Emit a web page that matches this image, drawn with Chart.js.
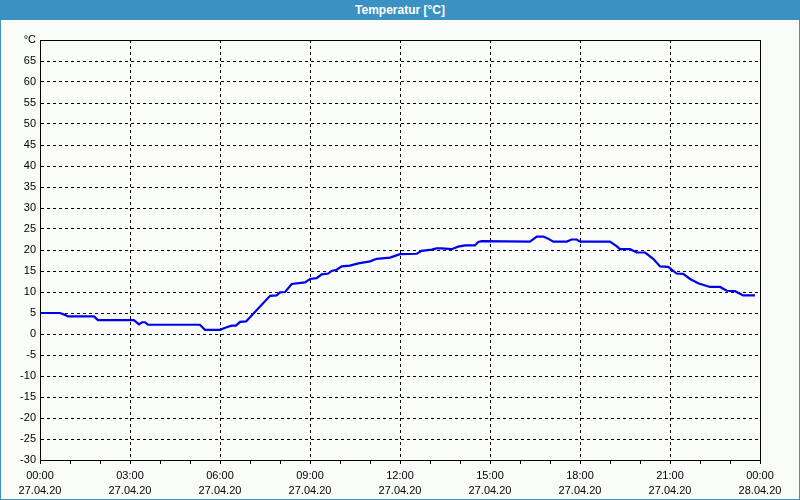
<!DOCTYPE html>
<html>
<head>
<meta charset="utf-8">
<script src="https://cdn.jsdelivr.net/npm/chart.js@4"></script>
<style>
    html, body { margin: 0; padding: 0; background: #fafcfa; }
    #titlebar {
        position: absolute; left: 0; top: 0; width: 800px; height: 20px;
        background: #3c91c3; color: #fff; text-align: center;
        font: bold 12px "Liberation Sans", sans-serif; line-height: 20px;
    }
    #wrap { position: absolute; left: 0; top: 20px; width: 800px; height: 480px; }
    #frame {
        position: absolute; left: 0; top: 0; width: 800px; height: 500px;
        box-sizing: border-box; border: 1px solid #3c91c3; pointer-events: none;
    }
</style>
</head>
<body>
<div id="titlebar">Temperatur [°C]</div>
<div id="wrap"><canvas id="tempChart" width="800" height="480"></canvas></div>
<div id="frame"></div>
<script>
// time in hours since 27.04.20 00:00, temperature in °C
const hours = [0, 0.67, 0.85, 0.93, 1.8, 1.93, 3.13, 3.3, 3.4, 3.5,
    3.6, 5.33, 5.5, 6.0, 6.22, 6.39, 6.53, 6.67, 6.87, 7.67,
    7.89, 8.0, 8.17, 8.39, 8.83, 9.0, 9.22, 9.39, 9.61, 9.72,
    9.89, 10.06, 10.33, 10.61, 11.0, 11.22, 11.67, 12.0, 12.56, 12.72,
    13.06, 13.22, 13.39, 13.72, 13.94, 14.17, 14.5, 14.61, 14.72, 16.33,
    16.56, 16.78, 16.94, 17.11, 17.56, 17.72, 17.89, 18.0, 19.0, 19.22,
    19.33, 19.67, 19.89, 20.17, 20.44, 20.67, 20.94, 21.22, 21.44, 21.67,
    21.94, 22.33, 22.67, 22.89, 23.17, 23.44, 23.83];
const temps = [5.0, 5.0, 4.5, 4.2, 4.2, 3.3, 3.3, 2.3, 2.8, 2.8,
    2.2, 2.2, 1.0, 1.0, 1.6, 2.0, 2.0, 2.9, 3.0, 9.1,
    9.2, 9.9, 10.0, 11.9, 12.3, 13.1, 13.3, 14.2, 14.4, 15.0,
    15.3, 16.1, 16.3, 16.8, 17.3, 17.9, 18.2, 19.0, 19.1, 19.8,
    20.1, 20.4, 20.4, 20.2, 20.8, 21.1, 21.1, 21.9, 22.1, 22.0,
    23.2, 23.2, 22.7, 22.0, 22.0, 22.5, 22.5, 22.0, 22.0, 20.9,
    20.2, 20.2, 19.4, 19.4, 17.9, 16.1, 16.0, 14.4, 14.3, 13.1,
    12.1, 11.2, 11.2, 10.3, 10.2, 9.2, 9.2];

// x tick labels, one per 3 hours
const timeLabels = ['00:00', '03:00', '06:00', '09:00', '12:00', '15:00', '18:00', '21:00', '00:00'];
const dateLabels = ['27.04.20', '27.04.20', '27.04.20', '27.04.20', '27.04.20', '27.04.20', '27.04.20', '27.04.20', '28.04.20'];
const yUnitLabel = '°C';

const points = hours.map((h, i) => ({ x: h, y: temps[i] }));

// solid frame around the plot area
const plotFrame = {
    id: 'plotFrame',
    afterDraw(chart) {
        const { ctx, chartArea: a } = chart;
        ctx.save();
        ctx.strokeStyle = '#000';
        ctx.lineWidth = 1;
        ctx.strokeRect(a.left + 0.5, a.top + 0.5, a.right - a.left, a.bottom - a.top);
        ctx.restore();
    }
};

new Chart(document.getElementById('tempChart'), {
    type: 'line',
    data: {
        datasets: [{
            data: points,
            borderColor: 'rgb(0, 0, 235)',
            borderWidth: 2.2,
            pointRadius: 0,
            tension: 0,
            fill: false
        }]
    },
    options: {
        responsive: false,
        animation: false,
        layout: { padding: { top: 20, right: 40, left: 0, bottom: 0 } },
        plugins: { legend: { display: false }, tooltip: { enabled: false } },
        scales: {
            x: {
                type: 'linear',
                min: 0,
                max: 24,
                afterFit: s => { s.height = 40; },
                ticks: {
                    stepSize: 1,
                    autoSkip: false,
                    maxRotation: 0,
                    padding: 4,
                    color: '#000',
                    font: { family: 'Liberation Sans', size: 11, lineHeight: 1.4 },
                    callback: v => v % 3 === 0 ? [timeLabels[v / 3], dateLabels[v / 3]] : ''
                },
                grid: {
                    color: c => (c.tick && c.tick.value % 3 === 0) ? '#000' : 'transparent',
                    tickColor: '#000',
                    tickLength: 4,
                    lineWidth: 1
                },
                border: { display: true, color: '#000', dash: [3, 3] }
            },
            y: {
                min: -30,
                max: 70,
                afterFit: s => { s.width = 40; },
                ticks: {
                    stepSize: 5,
                    autoSkip: false,
                    padding: 4,
                    color: '#000',
                    font: { family: 'Liberation Sans', size: 11 },
                    callback: v => v === 70 ? yUnitLabel : v
                },
                grid: { color: '#000', drawTicks: false, lineWidth: 1 },
                border: { display: true, color: '#000', dash: [3, 3] }
            }
        }
    },
    plugins: [plotFrame]
});
</script>
</body>
</html>
